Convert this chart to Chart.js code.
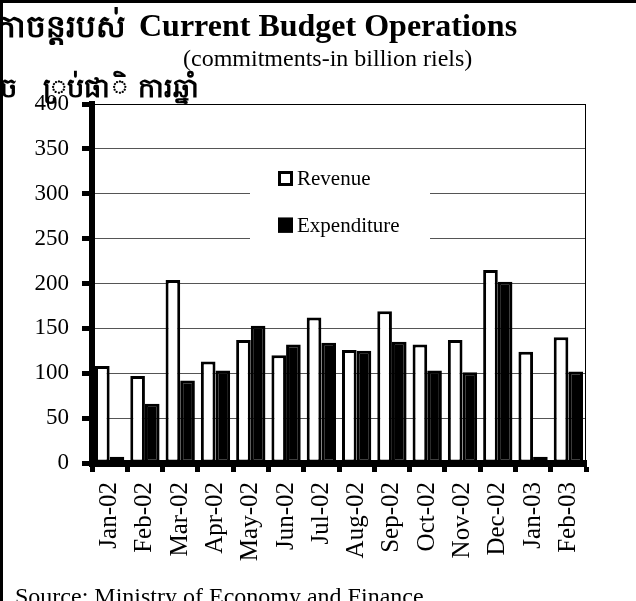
<!DOCTYPE html>
<html>
<head>
<meta charset="utf-8">
<script src="https://cdn.jsdelivr.net/npm/chart.js@4.4.0/dist/chart.umd.min.js"></script>
<style>
  body { margin: 0; background: #fff; }
  #page { position: relative; width: 636px; height: 601px; overflow: hidden; font-family: "Liberation Serif", "Times New Roman", serif; color: #000; }
  #frame { position: absolute; left: 0; top: 0; width: 636px; height: 601px; box-sizing: border-box; border-top: 3px solid #000; border-left: 3px solid #000; pointer-events: none; z-index: 5; }
  #chartBox { position: absolute; left: 0; top: 0; width: 636px; height: 601px; }
  .txt { position: absolute; white-space: nowrap; z-index: 3; }
  #km1 { left: -4px; top: 9px; font-size: 31px; line-height: 36px; font-weight: bold; }
  #km2 { left: 0; top: 71px; font-size: 27px; line-height: 34px; font-weight: bold; }
  #km2 span { display: inline-block; }
  #title { left: 139px; top: 9px; font-size: 32px; line-height: 32px; font-weight: bold; }
  #subtitle { left: 183px; top: 46px; font-size: 24px; line-height: 24px; }
  #source { left: 15px; top: 584px; font-size: 24px; line-height: 24px; }
</style>
</head>
<body>
<div id="page">
  <div id="chartBox"><canvas id="budgetChart"></canvas></div>
  <div class="txt" id="km1">កាចន្តរបស់</div>
  <div class="txt" id="km2"><span>ច</span><span style="margin-left:26px">្រប់ផា</span><span style="margin-left:2px">ិ</span><span style="margin-left:10px">ការឆ្នាំ</span></div>
  <div class="txt" id="title">Current Budget Operations</div>
  <div class="txt" id="subtitle">(commitments-in billion riels)</div>
  <div class="txt" id="source">Source: Ministry of Economy and Finance</div>
  <div id="frame"></div>
</div>
<script>
const months = ['Jan-02', 'Feb-02', 'Mar-02', 'Apr-02', 'May-02', 'Jun-02', 'Jul-02',
    'Aug-02', 'Sep-02', 'Oct-02', 'Nov-02', 'Dec-02', 'Jan-03', 'Feb-03'];
const revenue = [108, 97, 204, 113, 137, 120, 162, 126, 169, 132, 137, 215, 124, 140];
const expenditure = [7, 66, 92, 103, 153, 132, 134, 125, 135, 103, 101, 202, 7, 102];
const seriesNames = ['Revenue', 'Expenditure'];
const yMin = 0;
const yMax = 400;
const yStep = 50;

const serif = '"Liberation Serif", "Times New Roman", serif';

// legend sits inside the plot, on a white patch that breaks the gridlines
const insideLegend = {
    id: 'insideLegend',
    beforeDatasetsDraw(chart) {
        const { ctx, chartArea, scales } = chart;
        const y = scales.y;
        ctx.save();

        // right frame line
        ctx.strokeStyle = '#000';
        ctx.lineWidth = 1;
        ctx.beginPath();
        ctx.moveTo(chartArea.right - 0.5, chartArea.top);
        ctx.lineTo(chartArea.right - 0.5, chartArea.bottom);
        ctx.stroke();

        const left = chartArea.left + 158;
        const top = y.getPixelForValue(338);
        const bottom = y.getPixelForValue(242);
        ctx.fillStyle = '#fff';
        ctx.fillRect(left, top, 180, bottom - top);

        const rows = [y.getPixelForValue(317), y.getPixelForValue(265)];
        ctx.font = '21px ' + serif;
        ctx.textBaseline = 'middle';
        chart.data.datasets.forEach((ds, i) => {
            const cy = rows[i];
            const bx = chartArea.left + 186;
            ctx.fillStyle = ds.backgroundColor;
            ctx.fillRect(bx, cy - 7.5, 15, 15);
            ctx.strokeStyle = '#000';
            ctx.lineWidth = 3;
            ctx.strokeRect(bx + 1.5, cy - 6, 12, 12);
            ctx.fillStyle = '#000';
            ctx.fillText(ds.label, bx + 19, cy + 1);
        });
        ctx.restore();
    }
};

const ctx = document.getElementById('budgetChart').getContext('2d');

new Chart(ctx, {
    type: 'bar',
    data: {
        labels: months,
        datasets: [{
            label: seriesNames[0],
            data: revenue,
            backgroundColor: '#ffffff',
            borderColor: '#000000',
            borderWidth: 3,
            borderSkipped: false
        }, {
            label: seriesNames[1],
            data: expenditure,
            backgroundColor: '#000000',
            borderColor: '#000000',
            borderWidth: 3,
            borderSkipped: false
        }]
    },
    options: {
        responsive: true,
        maintainAspectRatio: false,
        animation: false,
        datasets: {
            bar: {
                categoryPercentage: 0.83,
                barPercentage: 1
            }
        },
        layout: {
            padding: { left: 0, right: 50, top: 104, bottom: 28 }
        },
        plugins: {
            legend: { display: false },
            title: { display: false },
            tooltip: { enabled: false }
        },
        scales: {
            x: {
                afterFit: (scale) => { scale.height = 110; },
                border: { display: true, color: '#000', width: 7 },
                grid: {
                    offset: true,
                    drawOnChartArea: false,
                    drawTicks: true,
                    tickLength: 9,
                    tickWidth: 5,
                    tickColor: '#000'
                },
                ticks: {
                    autoSkip: false,
                    minRotation: 90,
                    maxRotation: 90,
                    padding: 10,
                    color: '#000',
                    font: { family: serif, size: 25 }
                }
            },
            y: {
                min: yMin,
                max: yMax,
                afterFit: (scale) => { scale.width = 92; },
                border: { display: true, color: '#000', width: 6 },
                grid: {
                    color: (c) => (c.tick && c.tick.value === yMax ? '#000' : '#555'),
                    lineWidth: 1,
                    tickLength: 10,
                    tickWidth: 5,
                    tickColor: '#000'
                },
                ticks: {
                    stepSize: yStep,
                    padding: 13,
                    color: '#000',
                    font: { family: serif, size: 23 }
                }
            }
        }
    },
    plugins: [insideLegend]
});
</script>
</body>
</html>
